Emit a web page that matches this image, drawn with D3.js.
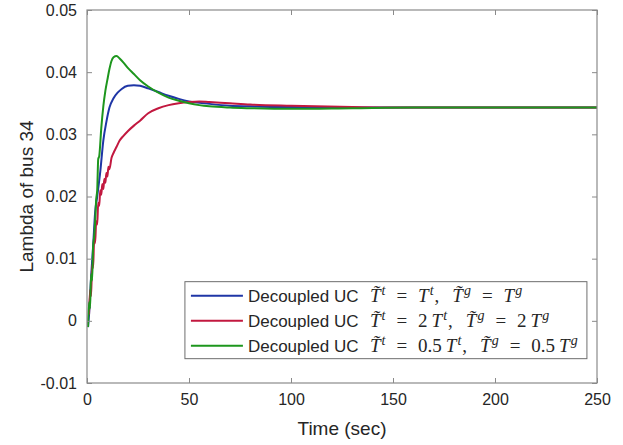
<!DOCTYPE html>
<html>
<head>
<meta charset="utf-8">
<script src="https://cdn.jsdelivr.net/npm/d3@7"></script>
<style>
  html, body { margin: 0; padding: 0; background: #fff; }
  svg { display: block; }
</style>
</head>
<body>
<div id="chart"></div>
<script>
// ---- data ----
const xTicks = [0, 50, 100, 150, 200, 250];
const yTicks = [-0.01, 0, 0.01, 0.02, 0.03, 0.04, 0.05];
const yTickLabels = ["-0.01", "0", "0.01", "0.02", "0.03", "0.04", "0.05"];

// T~ = T (blue)
const blueTime = [0.5, 1, 2, 3, 4, 5, 6.5, 8, 9.5, 11, 13, 15, 17, 20, 23, 26, 30, 35, 40, 45, 50, 60, 70, 80, 90, 100, 120, 150, 200, 250];
const blueLambda = [-0.001, 0.001, 0.007, 0.012, 0.0175, 0.020, 0.024, 0.029, 0.032, 0.0343, 0.0358, 0.0367, 0.0373, 0.0378, 0.0379, 0.0378, 0.0374, 0.0368, 0.0362, 0.0357, 0.0353, 0.0349, 0.0346, 0.0345, 0.0344, 0.0344, 0.0343, 0.0343, 0.0343, 0.0343];

// T~ = 2T (red)
const redTime = [1, 1.5, 2, 2.5, 3, 3.5, 4, 4.5, 5, 5.5, 6, 6.5, 7, 7.5, 8, 8.5, 9, 9.5, 10, 10.5, 11, 12, 13, 14.5, 16, 18, 20, 23, 26, 30, 35, 40, 45, 50, 55, 60, 70, 80, 100, 130, 160, 200, 250];
const redLambda = [0.001, 0.005, 0.004, 0.009, 0.0085, 0.013, 0.0125, 0.016, 0.0155, 0.019, 0.0185, 0.021, 0.0203, 0.022, 0.0212, 0.0228, 0.0222, 0.0238, 0.0232, 0.0248, 0.0244, 0.0262, 0.027, 0.028, 0.029, 0.0298, 0.0305, 0.0314, 0.0322, 0.0334, 0.0342, 0.0347, 0.0350, 0.0352, 0.0353, 0.0352, 0.0350, 0.0348, 0.0346, 0.0344, 0.0343, 0.0343, 0.0343];

// T~ = 0.5T (green)
const greenTime = [0.5, 1, 1.5, 2, 2.5, 3, 3.5, 4, 4.5, 5, 5.5, 6, 7, 8, 9, 10, 11, 12, 13, 14.5, 16, 18, 20, 23, 26, 30, 35, 40, 45, 50, 55, 60, 70, 80, 100, 130, 160, 200, 250];
const greenLambda = [-0.001, 0.003, 0.002, 0.0075, 0.0065, 0.012, 0.0135, 0.016, 0.0195, 0.021, 0.026, 0.0265, 0.031, 0.0345, 0.037, 0.0388, 0.0405, 0.0418, 0.0424, 0.0426, 0.0422, 0.0415, 0.0407, 0.0397, 0.0387, 0.0377, 0.0367, 0.0359, 0.0354, 0.0350, 0.0347, 0.0345, 0.0343, 0.0342, 0.0341, 0.0342, 0.0343, 0.0343, 0.0343];

const seriesCoef = ["", "2", "0.5"];
const seriesColors = ["#1f36a6", "#c2183f", "#1d961d"];

const series = [
  { time: blueTime, lambda: blueLambda },
  { time: redTime, lambda: redLambda },
  { time: greenTime, lambda: greenLambda }
].map((s, i) => ({
  coef: seriesCoef[i],
  color: seriesColors[i],
  points: s.time.map((t, j) => ({ t: t, v: s.lambda[j] }))
}));

// ---- layout ----
const width = 623, height = 445;
const margin = { top: 10, right: 26, bottom: 62, left: 87 };
const innerWidth = width - margin.left - margin.right,
      innerHeight = height - margin.top - margin.bottom;

const axisColor = "#8a8a8a", textColor = "#262626";
const sans = "'Liberation Sans', Arial, sans-serif";

const svg = d3.select("#chart").append("svg")
  .attr("width", width)
  .attr("height", height)
  .attr("font-family", sans);

const x = d3.scaleLinear().domain([0, 250]).range([0, innerWidth]);
const y = d3.scaleLinear().domain([-0.01, 0.05]).range([innerHeight, 0]);

const g = svg.append("g")
  .attr("transform", `translate(${margin.left},${margin.top})`);

// lines
const line = d3.line()
  .x(d => x(d.t))
  .y(d => y(d.v))
  .curve(d3.curveMonotoneX);

g.selectAll(".series")
  .data(series)
  .enter()
  .append("path")
  .attr("class", "series")
  .attr("fill", "none")
  .attr("stroke", d => d.color)
  .attr("stroke-width", 2)
  .attr("stroke-linejoin", "round")
  .attr("d", d => line(d.points));

// axes (ticks inside, mirrored like a boxed plot)
const tickLen = 5;
const xAxis = g.append("g")
  .attr("transform", `translate(0,${innerHeight})`)
  .call(d3.axisBottom(x).tickValues(xTicks).tickSizeInner(-tickLen).tickSizeOuter(0).tickPadding(11));
const xAxisTop = g.append("g")
  .call(d3.axisTop(x).tickValues(xTicks).tickSizeInner(-tickLen).tickSizeOuter(0));
const yAxis = g.append("g")
  .call(d3.axisLeft(y).tickValues(yTicks).tickSizeInner(-tickLen).tickSizeOuter(0).tickPadding(10)
    .tickFormat((d, i) => yTickLabels[i]));
const yAxisRight = g.append("g")
  .attr("transform", `translate(${innerWidth},0)`)
  .call(d3.axisRight(y).tickValues(yTicks).tickSizeInner(-tickLen).tickSizeOuter(0));

// mirrored axes carry only tick marks
xAxisTop.selectAll(".tick text").remove();
yAxisRight.selectAll(".tick text").remove();

[xAxis, xAxisTop, yAxis, yAxisRight].forEach(a => {
  a.attr("font-size", 16).attr("font-family", sans);
  a.select(".domain").remove();
  a.selectAll(".tick line").attr("stroke", axisColor);
  a.selectAll(".tick text").attr("fill", textColor);
});

// box
g.append("rect")
  .attr("width", innerWidth)
  .attr("height", innerHeight)
  .attr("fill", "none")
  .attr("stroke", axisColor)
  .attr("stroke-width", 1.2);

// axis labels
svg.append("text")
  .attr("x", margin.left + innerWidth / 2)
  .attr("y", height - 10)
  .attr("text-anchor", "middle")
  .attr("fill", textColor)
  .attr("font-size", 19)
  .text("Time (sec)");

svg.append("text")
  .attr("transform", `translate(33,${margin.top + innerHeight / 2}) rotate(-90)`)
  .attr("text-anchor", "middle")
  .attr("fill", textColor)
  .attr("font-size", 19)
  .text("Lambda of bus 34");

// legend
const legend = g.append("g")
  .attr("transform", `translate(${x(48)},${y(0.0063)})`);

legend.append("rect")
  .attr("width", 402)
  .attr("height", 77)
  .attr("fill", "#fff")
  .attr("stroke", "#6e6e6e")
  .attr("stroke-width", 1);

const rows = legend.selectAll(".row")
  .data(series)
  .enter()
  .append("g")
  .attr("class", "row")
  .attr("transform", (d, i) => `translate(0,${14 + i * 25})`);

rows.append("line")
  .attr("x1", 6).attr("x2", 58)
  .attr("stroke", d => d.color)
  .attr("stroke-width", 2);

rows.append("text")
  .attr("x", 63)
  .attr("y", 6)
  .attr("fill", textColor)
  .attr("font-size", 17)
  .text("Decoupled UC");

// math part: laid out piece by piece, gap = space before the piece
const mathFont = "'Liberation Serif', 'DejaVu Serif', serif";
rows.each(function(d) {
  const row = d3.select(this);
  const pieces = [
    { s: "T\u0303", it: true, gap: 0 }, { s: "t", sup: true },
    { s: "=", gap: 11 },
    d.coef ? { s: d.coef, gap: 11 } : null,
    { s: "T", it: true, gap: d.coef ? 4 : 11 }, { s: "t", sup: true },
    { s: ",", gap: 1 },
    { s: "T\u0303", it: true, gap: 13 }, { s: "g", sup: true },
    { s: "=", gap: 11 },
    d.coef ? { s: d.coef, gap: 11 } : null,
    { s: "T", it: true, gap: d.coef ? 4 : 11 }, { s: "g", sup: true }
  ].filter(p => p);
  let cx = 185;
  pieces.forEach(p => {
    cx += p.sup ? 1 : (p.gap || 0);
    const t = row.append("text")
      .attr("x", cx)
      .attr("y", p.sup ? -1 : 6)
      .attr("fill", textColor)
      .attr("font-family", mathFont)
      .attr("font-style", (p.it || p.sup) ? "italic" : "normal")
      .attr("font-size", p.sup ? 14 : 19)
      .text(p.s);
    cx += t.node().getComputedTextLength();
  });
});
</script>
</body>
</html>
